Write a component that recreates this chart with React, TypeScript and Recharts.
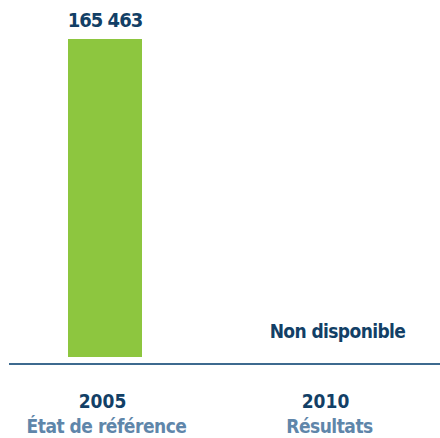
import React from 'react';
import { BarChart, Bar, XAxis, YAxis, LabelList } from 'recharts';

const years = ['2005', '2010'];
const captions = ['État de référence', 'Résultats'];
const totals: (number | null)[] = [165463, null];
const missingText = 'Non disponible';

const data = years.map((year, i) => ({ year, caption: captions[i], total: totals[i] }));

const FONT = "'DejaVu Sans Condensed', 'Liberation Sans Narrow', sans-serif";
const NAVY = '#123f66';
const STEEL = '#5f86aa';
const GREEN = '#8dc63f';

const fmt = (v: number) => String(v).replace(/\B(?=(\d{3})+(?!\d))/g, ' ');

function YearTick(props: any) {
  const { x, y, payload, index } = props;
  const row = data[index];
  return (
    <g>
      {row && row.total == null && (
        <text x={x + 10} y={y - 26} textAnchor="middle" fill={NAVY} fontFamily={FONT} fontWeight="bold" fontSize={19} letterSpacing={-0.6}>
          {missingText}
        </text>
      )}
      <text x={x - 2} y={y + 44} textAnchor="middle" fill={NAVY} fontFamily={FONT} fontWeight="bold" fontSize={19}>
        {payload.value}
      </text>
      <text x={x + 2} y={y + 69} textAnchor="middle" fill={STEEL} fontFamily={FONT} fontWeight="bold" fontSize={19} letterSpacing={-0.5}>
        {row ? row.caption : ''}
      </text>
    </g>
  );
}

export default function App() {
  return (
    <div style={{ position: 'absolute', left: 0, top: 0, width: 440, height: 438, background: '#fff' }}>
      <BarChart width={440} height={438} data={data} margin={{ top: 39, right: 0, bottom: 0, left: 9 }}>
        <XAxis
          dataKey="year"
          height={74}
          padding={{ left: -16, right: 1 }}
          tickLine={false}
          tickSize={0}
          tickMargin={0}
          axisLine={{ stroke: '#3d6a8f', strokeWidth: 2 }}
          tick={<YearTick />}
          interval={0}
        />
        <YAxis hide domain={[-3640, 'dataMax']} />
        <Bar dataKey="total" fill={GREEN} barSize={74} isAnimationActive={false}>
          <LabelList
            dataKey="total"
            position="top"
            offset={12}
            formatter={(v: any) => (v == null ? '' : fmt(v))}
            style={{ fill: NAVY, fontFamily: FONT, fontWeight: 'bold', fontSize: 20, letterSpacing: -1 }}
          />
        </Bar>
      </BarChart>
    </div>
  );
}
